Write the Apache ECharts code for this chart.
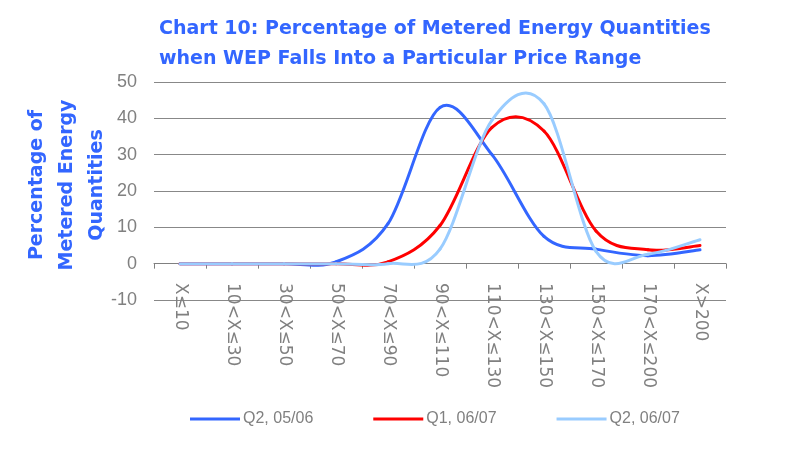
<!DOCTYPE html>
<html>
<head>
<meta charset="utf-8">
<script src="https://cdn.jsdelivr.net/npm/echarts@6/dist/echarts.min.js"></script>
<style>html,body{margin:0;padding:0;background:#fff}#c{width:791px;height:454px}</style>
</head>
<body>
<div id="c"></div>
<script>
var categories = ['X≤10','10<X≤30','30<X≤50','50<X≤70','70<X≤90','90<X≤110','110<X≤130','130<X≤150','150<X≤170','170<X≤200','X>200'];
var q2_0506 = [0, 0, 0, 0.5, 11, 43, 30, 7.5, 4, 2.2, 3.8];
var q1_0607 = [0, 0, 0, 0, 0.5, 10.5, 37.5, 36.5, 9, 3.8, 5];
var q2_0607 = [0, 0, 0, 0, 0, 4, 39.5, 44, 3.4, 2.6, 6.6];
var seriesNames = ['Q2, 05/06', 'Q1, 06/07', 'Q2, 06/07'];
var yTicks = {min: -10, max: 50, interval: 10};

var chart = echarts.init(document.getElementById('c'));
var grey = '#808080';
var SANS = 'Liberation Sans, Arial, sans-serif';
var WIDE = 'DejaVu Sans, sans-serif';

// Smoothed line (Catmull-Rom style Bezier, like spreadsheet "smoothed line"), drawn through the axes' coordinate system
function curveSeries(name, values, color) {
  return {
    name: name, type: 'custom', coordinateSystem: 'cartesian2d',
    data: values.map(function (v, i) { return [i, v]; }),
    encode: {x: 0, y: 1},
    itemStyle: {color: color},
    renderItem: function (params, api) {
      var i = params.dataIndex, n = values.length;
      if (i >= n - 1) return null;
      function p(k) { k = Math.max(0, Math.min(n - 1, k)); return api.coord([k, values[k]]); }
      var p0 = p(i - 1), p1 = p(i), p2 = p(i + 1), p3 = p(i + 2);
      return {
        type: 'bezierCurve',
        shape: {
          x1: p1[0], y1: p1[1], x2: p2[0], y2: p2[1],
          cpx1: p1[0] + (p2[0] - p0[0]) / 6, cpy1: p1[1] + (p2[1] - p0[1]) / 6,
          cpx2: p2[0] - (p3[0] - p1[0]) / 6, cpy2: p2[1] - (p3[1] - p1[1]) / 6
        },
        style: {stroke: color, lineWidth: 3, fill: null, lineCap: 'round'}
      };
    }
  };
}

chart.setOption({
  animation: false,
  title: {
    text: 'Chart 10: Percentage of Metered Energy Quantities\nwhen WEP Falls Into a Particular Price Range',
    left: 154, top: 9,
    textStyle: {color: '#3366FF', fontSize: 19, fontWeight: 'bold', fontFamily: WIDE, lineHeight: 30}
  },
  graphic: [{
    type: 'text', x: 67, y: 185, rotation: Math.PI / 2,
    style: {
      text: 'Percentage of\nMetered Energy\nQuantities', fill: '#3366FF',
      font: 'bold 19px DejaVu Sans, sans-serif', lineHeight: 30,
      align: 'center', verticalAlign: 'middle'
    }
  }],
  legend: {
    data: seriesNames, left: 185, top: 406, itemWidth: 50, itemHeight: 3, itemGap: 60, icon: 'rect',
    textStyle: {color: grey, fontSize: 16, fontFamily: SANS, padding: [0, 0, 0, -2]}
  },
  grid: {left: 154, right: 65, top: 82, bottom: 154, containLabel: false, outerBoundsMode: 'none'},
  xAxis: {
    type: 'category', data: categories, boundaryGap: true,
    axisLine: {onZero: true, lineStyle: {color: grey, width: 1}},
    axisTick: {show: true, length: 5, lineStyle: {color: grey}},
    axisLabel: {rotate: -90, color: grey, fontSize: 17, fontFamily: WIDE, margin: -17, interval: 0}
  },
  yAxis: {
    type: 'value', min: yTicks.min, max: yTicks.max, interval: yTicks.interval,
    axisLine: {show: false},
    axisTick: {show: false},
    axisLabel: {color: grey, fontSize: 18, fontFamily: SANS, margin: 17},
    splitLine: {show: true, lineStyle: {color: '#888888', width: 1}}
  },
  series: [
    curveSeries(seriesNames[0], q2_0506, '#3366FF'),
    curveSeries(seriesNames[1], q1_0607, '#FF0000'),
    curveSeries(seriesNames[2], q2_0607, '#99CCFF')
  ]
});
</script>
</body>
</html>
